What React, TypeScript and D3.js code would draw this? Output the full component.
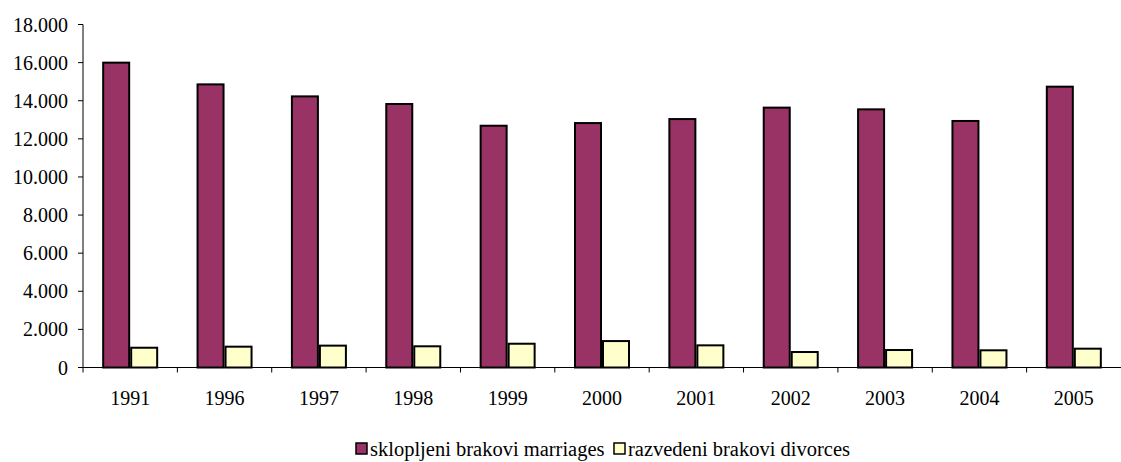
import React from "react";
import * as d3 from "d3";

const years = ["1991", "1996", "1997", "1998", "1999", "2000", "2001", "2002", "2003", "2004", "2005"];
const marriages = [16050, 14910, 14280, 13880, 12740, 12880, 13090, 13690, 13600, 12990, 14790];
const divorces = [1090, 1145, 1200, 1165, 1300, 1440, 1215, 865, 970, 955, 1040];
const yTicks = [0, 2000, 4000, 6000, 8000, 10000, 12000, 14000, 16000, 18000];
const seriesNames = ["sklopljeni brakovi marriages", "razvedeni brakovi divorces"];
const seriesColors = ["#993366", "#FFFFCC"];

const W = 1121;
const H = 462;
const left = 83;
const right = 1121;
const top = 24.5;
const bottom = 367.5;

const fmt = (v: number) => (v === 0 ? "0" : d3.format(",")(v).replace(/,/g, "."));

export default function App() {
  const x0 = d3.scaleBand<string>().domain(years).range([left, right]).padding(0);
  const bw = x0.bandwidth();
  const x1 = d3
    .scaleBand<string>()
    .domain(["m", "d"])
    .range([(bw - 56) / 2, (bw + 56) / 2])
    .padding(0);
  const y = d3.scaleLinear().domain([0, 18000]).range([bottom, top]);
  const font = "'Liberation Serif', 'Times New Roman', serif";

  return (
    <svg
      width={W}
      height={H}
      style={{ position: "absolute", left: 0, top: 0, background: "#fff" }}
      fontFamily={font}
    >
      {/* y axis */}
      <line x1={left} x2={left} y1={top} y2={bottom} stroke="#000" strokeWidth={1} />
      {yTicks.map((t) => (
        <g key={t}>
          <line x1={left - 5} x2={left} y1={y(t)} y2={y(t)} stroke="#000" />
          <text x={left - 15} y={y(t)} dy="0.35em" textAnchor="end" fontSize={20} fill="#000">
            {fmt(t)}
          </text>
        </g>
      ))}
      {/* bars */}
      {years.map((yr, i) => {
        const gx = x0(yr)!;
        const vals = [marriages[i], divorces[i]];
        return (
          <g key={yr}>
            {["m", "d"].map((k, j) => {
              const bx = gx + x1(k)!;
              const v = vals[j];
              return (
                <rect
                  key={k}
                  x={bx + 1}
                  y={y(v) + 1}
                  width={x1.bandwidth() - 2}
                  height={bottom - y(v) - 1}
                  fill={seriesColors[j]}
                  stroke="#000"
                  strokeWidth={2}
                />
              );
            })}
          </g>
        );
      })}
      {/* x axis */}
      <line x1={left} x2={right} y1={bottom} y2={bottom} stroke="#000" strokeWidth={1} />
      {years.map((yr) => (
        <line
          key={"t" + yr}
          x1={x0(yr)!}
          x2={x0(yr)!}
          y1={bottom}
          y2={bottom + 5}
          stroke="#000"
        />
      ))}
      {years.map((yr) => (
        <text
          key={"l" + yr}
          x={x0(yr)! + bw / 2}
          y={405}
          textAnchor="middle"
          fontSize={20}
          fill="#000"
        >
          {yr}
        </text>
      ))}
      {/* legend */}
      <g>
        <rect x={356} y={443} width={11} height={11} fill={seriesColors[0]} stroke="#000" strokeWidth={1.5} />
        <text x={370} y={456} fontSize={20.5} fill="#000">
          {seriesNames[0]}
        </text>
        <rect x={614} y={443} width={11} height={11} fill={seriesColors[1]} stroke="#000" strokeWidth={1.5} />
        <text x={628} y={456} fontSize={20.5} fill="#000">
          {seriesNames[1]}
        </text>
      </g>
    </svg>
  );
}
